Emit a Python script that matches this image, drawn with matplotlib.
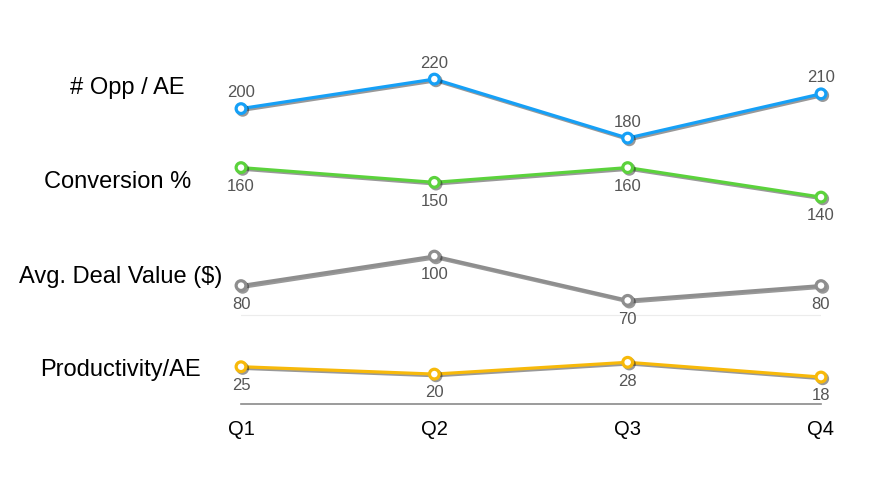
import matplotlib.pyplot as plt
import matplotlib.patheffects as pe

quarters = ['Q1', 'Q2', 'Q3', 'Q4']
opp_per_ae = [200, 220, 180, 210]
conversion = [160, 150, 160, 140]
deal_value = [80, 100, 70, 80]
productivity = [25, 20, 28, 18]

series_names = ['# Opp / AE', 'Conversion %', 'Avg. Deal Value ($)', 'Productivity/AE']
series_values = [opp_per_ae, conversion, deal_value, productivity]
colors = ['#16a0f6', '#5bd23c', '#8e8e8e', '#f7b90a']
label_above = [True, False, False, False]
name_x = [127, 118, 121, 120]  # pixel positions of the left-hand labels
name_y = [88, 182, 277, 370]

plt.rcParams['font.family'] = ['Liberation Sans', 'DejaVu Sans']

fig = plt.figure(figsize=(8.81, 4.9), dpi=100)
ax = fig.add_axes((241 / 881, 1 - 403.6 / 490, 580 / 881, 368.75 / 490))
ax.set_xlim(0, 3)
ax.set_ylim(0, 250)

# faint grid line
ax.axhline(60, color='#ececec', lw=0.8, zorder=0)

x = list(range(len(quarters)))
shadow = [pe.SimpleLineShadow(offset=(1.2, -1.2), shadow_color='k', alpha=0.4),
          pe.Normal()]
for vals, col, above in zip(series_values, colors, label_above):
    ax.plot(x, vals, color=col, lw=2.3, marker='o', ms=7, mfc='white',
            mec=col, mew=2.3, path_effects=shadow, zorder=3, clip_on=False)
    for xi, v in zip(x, vals):
        dy = 11.5 if above else -13.5
        ax.annotate(str(v), (xi, v), xytext=(0, dy), textcoords='offset points',
                    ha='center', va='center', fontsize=12, color='#555555')

for name, px, py in zip(series_names, name_x, name_y):
    fig.text(px / 881, 1 - py / 490, name, ha='center', va='center',
             fontsize=17, color='black')

for s in ['top', 'right', 'left']:
    ax.spines[s].set_visible(False)
ax.spines['bottom'].set_color('#8a8a8a')
ax.spines['bottom'].set_linewidth(1.2)
ax.set_yticks([])
ax.set_xticks(x)
ax.set_xticklabels(quarters, fontsize=14.5, color='black')
ax.tick_params(axis='x', length=0, pad=12)
ax.patch.set_visible(False)

fig.savefig('out.png', dpi=100)
